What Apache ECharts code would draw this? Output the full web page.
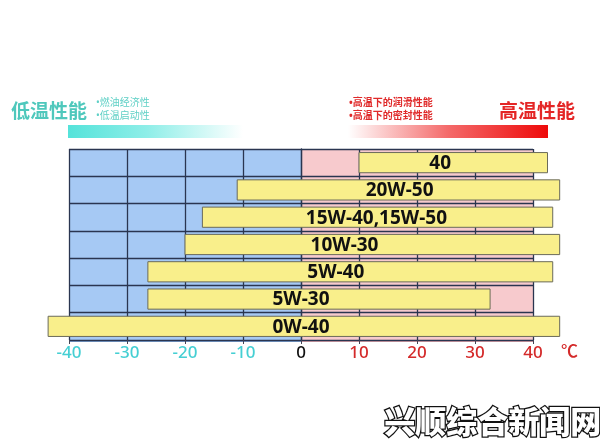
<!DOCTYPE html>
<html>
<head>
<meta charset="utf-8">
<script src="https://cdn.jsdelivr.net/npm/echarts@6/dist/echarts.min.js"></script>
<style>html,body{margin:0;padding:0;background:#fff}#c{width:600px;height:448px}</style>
</head>
<body>
<div id="c"></div>
<script>
// ---- data ----
var grades = ['40', '20W-50', '15W-40,15W-50', '10W-30', '5W-40', '5W-30', '0W-40'];
var lowTemp = [10, -11, -17, -20, -26.4, -26.4, -43.6];
var highTemp = [42.5, 44.6, 43.4, 44.6, 43.4, 32.6, 44.6];
var labelTemp = [24, 17, 13, 7.5, 6, 0, 0];
var tickValues = [-40, -30, -20, -10, 0, 10, 20, 30, 40];
var zones = [[-40, 0], [0, 40]];
var zoneNames = ['cold', 'hot'];

var zoneColors = { cold: '#a6c9f4', hot: '#f7cacd' };
var zoneLineColors = { cold: '#7ea4d4', hot: '#e7a9ae' };
var lineColor = '#2a3550';
var font = '"Noto Sans CJK SC", "Noto Sans", sans-serif';
var bulletFont = '"Noto Sans", "Noto Sans CJK SC", sans-serif';

var barData = grades.map(function (g, i) { return [lowTemp[i], highTemp[i], i, labelTemp[i]]; });
var zoneData = zones.map(function (z, i) { return [z[0], z[1], i]; });

var chart = echarts.init(document.getElementById('c'));
chart.setOption({
  animation: false,
  grid: { left: 69, right: 67, top: 149, bottom: 108 },
  xAxis: {
    type: 'value', min: -40, max: 40, interval: 10, z: 3,
    axisLine: { show: false },
    axisTick: { show: true, length: 4, lineStyle: { color: '#445' } },
    splitLine: { show: true, lineStyle: { color: lineColor, width: 1.3 } },
    axisLabel: {
      margin: 5, fontSize: 17, fontFamily: bulletFont, fontWeight: 500,
      color: function (v) { v = Number(v); return v < 0 ? '#45cfd3' : (v === 0 ? '#111' : '#d42a2a'); }
    }
  },
  yAxis: {
    type: 'category', data: grades, inverse: true, z: 3,
    axisLine: { show: true, lineStyle: { color: lineColor, width: 1.3 } },
    axisTick: { show: false }, axisLabel: { show: false },
    splitLine: { show: true, lineStyle: { color: lineColor, width: 1.3 } }
  },
  series: [
    {
      type: 'custom', z: 1, silent: true, clip: false, data: zoneData,
      renderItem: function (params, api) {
        var cs = params.coordSys;
        var x0 = api.coord([api.value(0), 0])[0];
        var x1 = api.coord([api.value(1), 0])[0];
        var n = zoneNames[api.value(2)];
        return { type: 'group', children: [
          { type: 'rect', shape: { x: x0, y: cs.y, width: x1 - x0, height: cs.height },
            style: { fill: zoneColors[n] } },
          { type: 'rect', shape: { x: x0, y: cs.y + cs.height, width: x1 - x0, height: 2 },
            style: { fill: zoneLineColors[n] } }
        ] };
      }
    },
    {
      type: 'custom', z: 5, clip: false, data: barData,
      encode: { x: [0, 1], y: 2 },
      renderItem: function (params, api) {
        var idx = api.value(2);
        var p0 = api.coord([api.value(0), idx]);
        var p1 = api.coord([api.value(1), idx]);
        var band = api.size([0, 1])[1];
        var h = band * 0.74;
        var lx = api.coord([api.value(3), idx])[0];
        return { type: 'group', children: [
          { type: 'rect', shape: { x: p0[0], y: p0[1] - h / 2, width: p1[0] - p0[0], height: h },
            style: { fill: '#f9ef8b', stroke: '#6b6b5a', lineWidth: 1 } },
          { type: 'text', x: lx, y: p0[1] + 1,
            style: { text: grades[idx], fill: '#111', font: 'bold 19px ' + bulletFont, align: 'center', verticalAlign: 'middle' } }
        ] };
      }
    }
  ],
  graphic: [
    { type: 'text', left: 561, top: 342, style: { text: '℃', fill: '#d42a2a', font: '500 17px ' + font } },
    { type: 'text', left: 11, top: 101, style: { text: '低温性能', fill: '#4fc8bc', font: 'bold 19px ' + font } },
    { type: 'text', left: 96, top: 97, style: { text: '•燃油经济性\n•低温启动性', fill: '#5fd0c6', font: '10px ' + bulletFont, lineHeight: 13 } },
    { type: 'rect', shape: { x: 68, y: 125, width: 175, height: 13 },
      style: { fill: new echarts.graphic.LinearGradient(0, 0, 1, 0, [
        { offset: 0, color: '#55e3da' }, { offset: 0.45, color: '#8eeee8' }, { offset: 1, color: '#ffffff' }]) } },
    { type: 'text', left: 349, top: 97, style: { text: '•高温下的润滑性能\n•高温下的密封性能', fill: '#e02a2a', font: 'bold 10px ' + bulletFont, lineHeight: 13 } },
    { type: 'text', left: 499, top: 101, style: { text: '高温性能', fill: '#e42626', font: 'bold 19px ' + font } },
    { type: 'rect', shape: { x: 348, y: 125, width: 200, height: 13 },
      style: { fill: new echarts.graphic.LinearGradient(0, 0, 1, 0, [
        { offset: 0, color: '#ffffff' }, { offset: 0.5, color: '#f46a6a' }, { offset: 1, color: '#ee0a0a' }]) } },
    { type: 'text', left: 383, top: 404, style: { text: '兴顺综合新闻网', fill: '#ffffff', stroke: '#111', lineWidth: 2.5, font: '900 31px ' + font } }
  ]
});
</script>
</body>
</html>
